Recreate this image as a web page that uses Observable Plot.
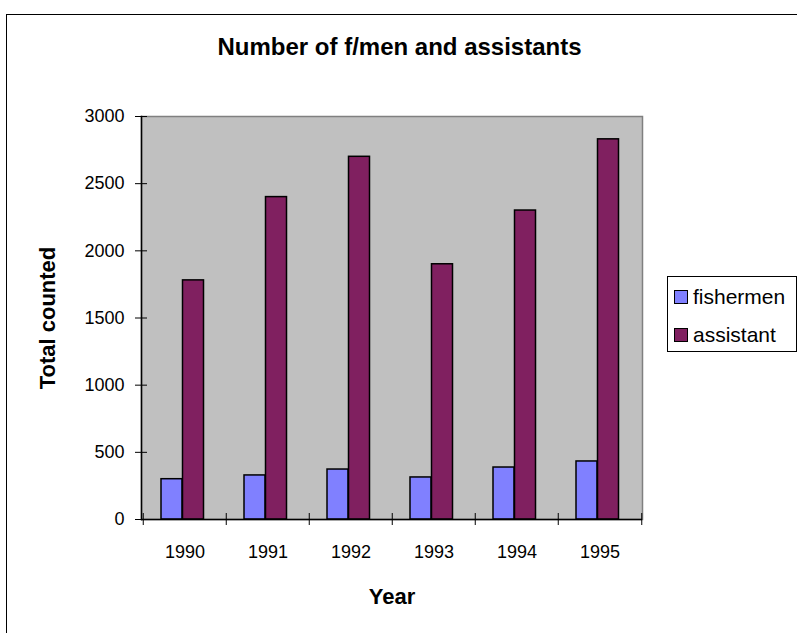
<!DOCTYPE html>
<html>
<head>
<meta charset="utf-8">
<script src="https://cdn.jsdelivr.net/npm/d3@7"></script>
<script src="https://cdn.jsdelivr.net/npm/@observablehq/plot@0.6"></script>
<style>
  html, body { margin: 0; padding: 0; background: #fff; }
  #wrap { position: relative; width: 797px; height: 633px; overflow: hidden; font-family: "Liberation Sans", Arial, sans-serif; }
  #border { position: absolute; left: 6px; top: 14px; width: 830px; height: 660px; border: 1px solid #000; box-sizing: border-box; }
  #chart { position: absolute; left: 0; top: 0; }
  #legend { position: absolute; left: 667px; top: 276px; width: 130px; height: 76px; border: 1px solid #000; box-sizing: border-box; background: #fff; padding-top: 1px; }
  .item { height: 38px; display: flex; align-items: center; padding-left: 6px; font-size: 21px; color: #000; }
  .sw { width: 14px; height: 14px; box-sizing: border-box; border: 1.5px solid #000; margin-right: 5px; }
</style>
</head>
<body>
<div id="wrap">
  <div id="border"></div>
  <div id="chart"></div>
  <div id="legend"></div>
</div>
<script>
const title = "Number of f/men and assistants";
const xTitle = "Year";
const yTitle = "Total counted";
const years = [1990, 1991, 1992, 1993, 1994, 1995];
const fishermen = [300, 328, 372, 313, 387, 432];
const assistant = [1780, 2400, 2700, 1900, 2300, 2830];
const seriesNames = ["fishermen", "assistant"];
const seriesColors = ["#8080ff", "#802060"];
const yTicks = [0, 500, 1000, 1500, 2000, 2500, 3000];

const W = 797, H = 633;
const mL = 141, mR = 155, mT = 116, mB = 114;
const step = (W - mL - mR) / years.length;
const barW = step * 0.2575;
const leftIn = step * 0.2156;

const rows = years.map((year, i) => ({year, fishermen: fishermen[i], assistant: assistant[i]}));

const chart = Plot.plot({
  width: W,
  height: H,
  marginLeft: mL,
  marginRight: mR,
  marginTop: mT,
  marginBottom: mB,
  style: {fontFamily: "'Liberation Sans', Arial, sans-serif", fontSize: "18px", color: "#000", background: "transparent"},
  x: {type: "band", domain: years, padding: 0},
  y: {domain: [0, 3000]},
  marks: [
    Plot.frame({fill: "#c0c0c0"}),
    Plot.frame({stroke: "#808080", strokeWidth: 1.5}),
    Plot.barY(rows, {x: "year", y: "fishermen", fill: seriesColors[0], stroke: "#000", strokeWidth: 1.5,
      insetLeft: leftIn, insetRight: step - leftIn - barW}),
    Plot.barY(rows, {x: "year", y: "assistant", fill: seriesColors[1], stroke: "#000", strokeWidth: 1.5,
      insetLeft: leftIn + barW, insetRight: step - leftIn - 2 * barW}),
    Plot.ruleY([0], {stroke: "#000", strokeWidth: 1.5}),
    Plot.frame({anchor: "left", stroke: "#000", strokeWidth: 1.5}),
    Plot.axisY({ticks: yTicks, tickSize: 12, dx: 6, tickPadding: 11, tickFormat: d3.format("d"), fontSize: 18, label: null}),
    Plot.axisX({ticks: years, tickSize: 12, dy: -6, dx: -step / 2, tickFormat: () => "", label: null}),
    Plot.axisX({ticks: [years[years.length - 1]], tickSize: 12, dy: -6, dx: step / 2, tickFormat: () => "", label: null}),
    Plot.axisX({ticks: years, tickSize: 0, tickPadding: 26, tickFormat: d => String(d), fontSize: 18, label: null}),
    Plot.text([title], {text: d => d, frameAnchor: "top", lineAnchor: "middle", dy: -69, dx: 7.5, fontSize: 24, fontWeight: "bold"}),
    Plot.text([xTitle], {text: d => d, frameAnchor: "bottom", lineAnchor: "middle", dy: 77, fontSize: 22, fontWeight: "bold"}),
    Plot.text([yTitle], {text: d => d, frameAnchor: "left", textAnchor: "middle", lineAnchor: "middle", rotate: -90, dx: -94, fontSize: 22, fontWeight: "bold"})
  ]
});
document.getElementById("chart").appendChild(chart);

const legend = document.getElementById("legend");
seriesNames.forEach((name, i) => {
  const item = document.createElement("div");
  item.className = "item";
  const sw = document.createElement("span");
  sw.className = "sw";
  sw.style.background = seriesColors[i];
  const label = document.createElement("span");
  label.textContent = name;
  item.appendChild(sw);
  item.appendChild(label);
  legend.appendChild(item);
});
</script>
</body>
</html>
